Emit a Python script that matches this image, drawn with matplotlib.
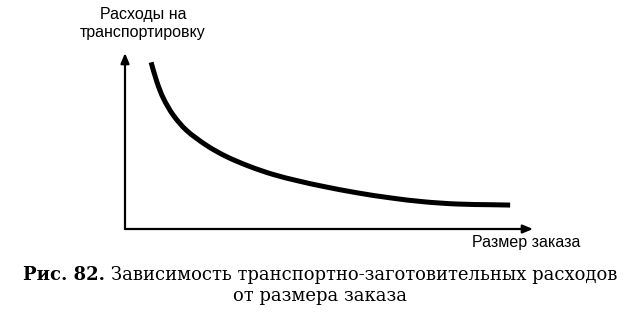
import matplotlib
matplotlib.use("Agg")
import matplotlib.pyplot as plt
from matplotlib.path import Path
from matplotlib.patches import PathPatch

# curve (order size vs. transport costs, axis units 0..100)
order_size = [6.4, 7.8, 9.4, 11.8, 15.1, 20.0, 24.9, 30.6, 36.3, 42.5, 48.6, 56.8,
              65.0, 73.1, 81.3, 89.5, 94.4]
costs = [94.7, 83.7, 74.3, 64.8, 56.0, 47.5, 41.1, 35.5, 31.0, 27.3, 24.2, 20.6,
         17.7, 15.5, 14.2, 13.8, 13.6]

ylabel = "Расходы на\nтранспортировку"
xlabel = "Размер заказа"
cap_bold = "Рис. 82."
cap_line1 = " Зависимость транспортно-заготовительных расходов"
cap_line2 = "от размера заказа"


def smooth_path(xs, ys):
    # Catmull-Rom through the read points, drawn as cubic Bezier segments
    pts = list(zip(xs, ys))
    verts = [pts[0]]
    codes = [Path.MOVETO]
    for i in range(len(pts) - 1):
        p0 = pts[i - 1] if i > 0 else pts[i]
        p1, p2 = pts[i], pts[i + 1]
        p3 = pts[i + 2] if i + 2 < len(pts) else pts[i + 1]
        c1 = (p1[0] + (p2[0] - p0[0]) / 6, p1[1] + (p2[1] - p0[1]) / 6)
        c2 = (p2[0] - (p3[0] - p1[0]) / 6, p2[1] - (p3[1] - p1[1]) / 6)
        verts += [c1, c2, p2]
        codes += [Path.CURVE4] * 3
    return Path(verts, codes)


W, H = 634, 325
fig = plt.figure(figsize=(W / 100, H / 100), dpi=100)
ax = fig.add_axes([125 / W, (H - 229) / H, 408 / W, 176 / H])
ax.set_xlim(0, 100)
ax.set_ylim(0, 100)
ax.axis("off")

# axes with arrows
arrow = dict(arrowstyle="-|>,head_length=0.6,head_width=0.25", color="black", lw=1.6,
             shrinkA=0, shrinkB=0)
ax.annotate("", xy=(100, 0), xytext=(0, 0), arrowprops=arrow, annotation_clip=False)
ax.annotate("", xy=(0, 100), xytext=(0, 0), arrowprops=arrow, annotation_clip=False)

ax.add_patch(PathPatch(smooth_path(order_size, costs), facecolor="none", edgecolor="black",
                       lw=3.6, capstyle="butt", clip_on=False))

sans = "Liberation Sans"
fig.text(143 / W, 1 - 23 / H, ylabel, ha="center", va="center", fontsize=11.5,
         family=sans, linespacing=1.25)
fig.text(526 / W, 1 - 243 / H, xlabel, ha="center", va="center", fontsize=11.5, family=sans)

serif = "DejaVu Serif"
t1 = fig.text(23 / W, 1 - 280 / H, cap_bold, ha="left", va="baseline", fontsize=13,
              family=serif, weight="bold")
ax.annotate(cap_line1, xy=(1, 0), xycoords=t1, ha="left", va="bottom",
            fontsize=13, family=serif, annotation_clip=False)
fig.text(320 / W, 1 - 301 / H, cap_line2, ha="center", va="baseline", fontsize=13, family=serif)

fig.savefig("out.png", dpi=100)
